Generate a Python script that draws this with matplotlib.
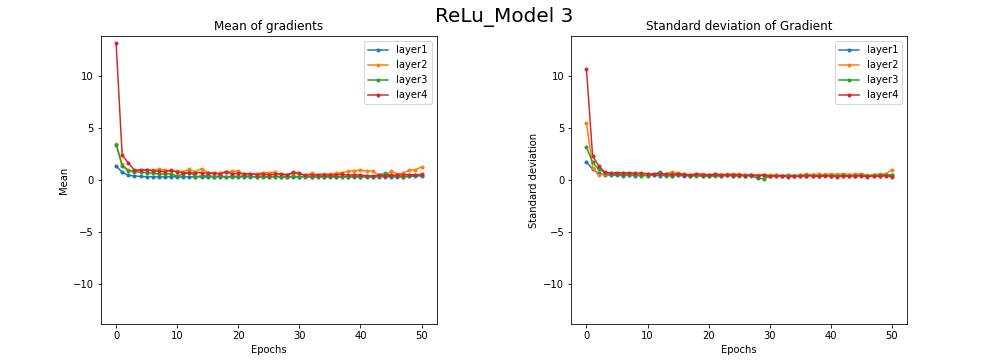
import matplotlib
matplotlib.use("Agg")
import matplotlib.pyplot as plt
import numpy as np

epochs = list(range(51))

mean_layer1 = [1.35, 0.74, 0.45, 0.39, 0.34, 0.32, 0.31, 0.30, 0.30, 0.31, 0.30, 0.30, 0.31, 0.30, 0.30, 0.30, 0.31, 0.30, 0.30, 0.30,
               0.30, 0.31, 0.30, 0.30, 0.30, 0.30, 0.31, 0.30, 0.30, 0.30, 0.30, 0.31, 0.30, 0.30, 0.30, 0.30, 0.31, 0.30, 0.30, 0.30,
               0.30, 0.31, 0.30, 0.30, 0.30, 0.31, 0.30, 0.30, 0.34, 0.38, 0.40]
mean_layer2 = [3.48, 1.50, 0.93, 0.87, 0.97, 0.93, 0.93, 1.03, 0.95, 0.85, 0.84, 0.81, 1.03, 0.80, 1.10, 0.70, 0.61, 0.70, 0.74, 0.84,
               0.84, 0.55, 0.58, 0.61, 0.70, 0.70, 0.74, 0.52, 0.45, 0.64, 0.58, 0.45, 0.64, 0.52, 0.61, 0.58, 0.64, 0.70, 0.84, 0.87,
               0.97, 0.84, 0.87, 0.45, 0.39, 0.84, 0.58, 0.64, 0.97, 0.97, 1.26]
mean_layer3 = [3.39, 1.35, 0.90, 0.80, 0.74, 0.70, 0.64, 0.58, 0.58, 0.58, 0.39, 0.58, 0.80, 0.32, 0.39, 0.45, 0.32, 0.39, 0.32, 0.35,
               0.35, 0.39, 0.35, 0.32, 0.35, 0.32, 0.35, 0.32, 0.30, 0.35, 0.32, 0.35, 0.32, 0.35, 0.32, 0.35, 0.32, 0.35, 0.32, 0.35,
               0.32, 0.35, 0.32, 0.45, 0.64, 0.45, 0.35, 0.32, 0.39, 0.45, 0.45]
mean_layer4 = [13.15, 2.40, 1.65, 0.94, 0.97, 0.97, 0.90, 0.84, 0.80, 0.94, 0.77, 0.70, 0.64, 0.70, 0.70, 0.64, 0.67, 0.58, 0.80, 0.58,
               0.64, 0.58, 0.61, 0.52, 0.55, 0.52, 0.55, 0.58, 0.52, 0.74, 0.64, 0.45, 0.52, 0.45, 0.52, 0.45, 0.52, 0.55, 0.45, 0.52,
               0.45, 0.42, 0.39, 0.45, 0.42, 0.45, 0.45, 0.52, 0.52, 0.48, 0.55]

std_layer1 = [1.74, 1.03, 0.64, 0.48, 0.48, 0.45, 0.42, 0.48, 0.42, 0.45, 0.42, 0.45, 0.42, 0.45, 0.42, 0.45, 0.39, 0.42, 0.45, 0.42,
              0.42, 0.45, 0.42, 0.45, 0.42, 0.45, 0.42, 0.45, 0.42, 0.45, 0.42, 0.45, 0.42, 0.45, 0.42, 0.45, 0.42, 0.45, 0.42, 0.45,
              0.42, 0.45, 0.42, 0.45, 0.42, 0.45, 0.42, 0.45, 0.42, 0.45, 0.48]
std_layer2 = [5.48, 1.19, 0.45, 0.58, 0.64, 0.61, 0.64, 0.58, 0.61, 0.55, 0.58, 0.55, 0.58, 0.61, 0.74, 0.67, 0.58, 0.52, 0.55, 0.58,
              0.52, 0.55, 0.52, 0.58, 0.55, 0.58, 0.48, 0.52, 0.48, 0.52, 0.45, 0.48, 0.42, 0.48, 0.42, 0.45, 0.55, 0.52, 0.58, 0.52,
              0.58, 0.55, 0.61, 0.52, 0.55, 0.61, 0.45, 0.52, 0.58, 0.61, 0.97]
std_layer3 = [3.13, 1.68, 1.03, 0.70, 0.58, 0.55, 0.48, 0.45, 0.45, 0.42, 0.45, 0.52, 0.77, 0.39, 0.42, 0.48, 0.55, 0.39, 0.42, 0.35,
              0.39, 0.35, 0.39, 0.45, 0.42, 0.39, 0.45, 0.39, 0.16, 0.13, 0.35, 0.42, 0.39, 0.42, 0.39, 0.42, 0.45, 0.42, 0.39, 0.45,
              0.42, 0.39, 0.45, 0.39, 0.42, 0.45, 0.39, 0.42, 0.45, 0.48, 0.45]
std_layer4 = [10.65, 2.32, 1.35, 0.77, 0.65, 0.71, 0.65, 0.71, 0.65, 0.65, 0.61, 0.58, 0.61, 0.58, 0.55, 0.58, 0.52, 0.48, 0.58, 0.52,
              0.48, 0.55, 0.52, 0.48, 0.52, 0.48, 0.42, 0.48, 0.42, 0.48, 0.35, 0.39, 0.42, 0.32, 0.39, 0.35, 0.42, 0.39, 0.35, 0.39,
              0.42, 0.32, 0.39, 0.35, 0.42, 0.39, 0.32, 0.39, 0.35, 0.42, 0.29]

labels = ["layer1", "layer2", "layer3", "layer4"]
mean_series = [mean_layer1, mean_layer2, mean_layer3, mean_layer4]
std_series = [std_layer1, std_layer2, std_layer3, std_layer4]

fig, axes = plt.subplots(1, 2, figsize=(14, 5), dpi=72)
fig.subplots_adjust(left=0.1, right=0.9, top=0.9, bottom=0.1, wspace=0.4)
fig.suptitle("ReLu_Model 3", fontsize=20)

ymax = max(max(s) for s in mean_series) * 1.05

ax = axes[0]
for lab, s in zip(labels, mean_series):
    ax.plot(epochs, s, marker='.', label=lab)
ax.set_title("Mean of gradients")
ax.set_xlabel("Epochs")
ax.set_ylabel("Mean")
ax.set_ylim(-ymax, ymax)
ax.legend(loc="upper right")

ax = axes[1]
for lab, s in zip(labels, std_series):
    ax.plot(epochs, s, marker='.', label=lab)
ax.set_title("Standard deviation of Gradient")
ax.set_xlabel("Epochs")
ax.set_ylabel("Standard deviation")
ax.set_ylim(-ymax, ymax)
ax.legend(loc="upper right")

fig.savefig("out.png", dpi=72)
